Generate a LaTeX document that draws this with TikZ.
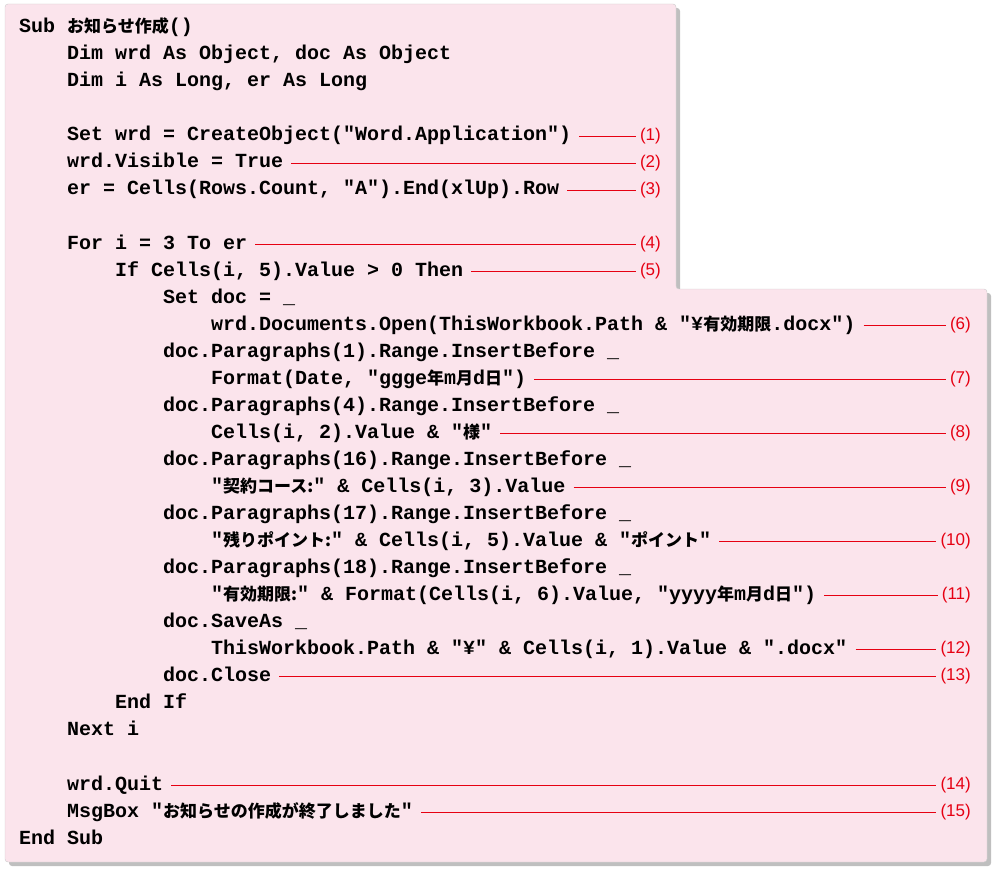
\documentclass[tikz,border=0pt]{standalone}
\usepackage{fontspec}
\setmonofont{Liberation Mono}
\setsansfont{Liberation Sans}
\newfontfamily\jpfont{Noto Sans CJK JP}
\newcommand{\jtxt}[1]{{\jpfont\fontsize{17}{20}\selectfont #1}}
\usetikzlibrary{positioning, calc}
\definecolor{sheet}{HTML}{FBE4EC}
\definecolor{leadred}{HTML}{E60012}

\begin{document}
\begin{tikzpicture}[x=1pt, y=1pt,
    code/.style={anchor=west, inner sep=0pt, font=\ttfamily\bfseries\fontsize{20}{22}\selectfont, text height=14pt, text depth=4pt},
    num/.style={anchor=east, inner sep=0pt, text=leadred, font=\sffamily\fontsize{17}{20}\selectfont},
    lead/.style={draw=leadred, semithick, shorten <=8pt, shorten >=4pt}
]
\useasboundingbox (0,0) rectangle (1000,-877);

% Sheet with its step on the right
\fill[black!25, rounded corners=3pt] (9,-8) -- (680,-8) -- (680,-293) -- (991,-293) -- (991,-866) -- (9,-866) -- cycle;
\filldraw[fill=sheet, draw=black!20, rounded corners=3pt] (5,-4) -- (676,-4) -- (676,-289) -- (987,-289) -- (987,-862) -- (5,-862) -- cycle;

% Code lines
\node[code] (c1) at (19,-28) {Sub \jtxt{お知らせ作成}()};
\node[code] (c2) at (67,-55) {Dim wrd As Object, doc As Object};
\node[code] (c3) at (67,-82) {Dim i As Long, er As Long};
\node[code] (c5) at (67,-136) {Set wrd = CreateObject("Word.Application")};
\node[code] (c6) at (67,-163) {wrd.Visible = True};
\node[code] (c7) at (67,-190) {er = Cells(Rows.Count, "A").End(xlUp).Row};
\node[code] (c9) at (67,-244) {For i = 3 To er};
\node[code] (c10) at (115,-271) {If Cells(i, 5).Value > 0 Then};
\node[code] (c11) at (163,-298) {Set doc = \_};
\node[code] (c12) at (211,-325) {wrd.Documents.Open(ThisWorkbook.Path \& "¥\jtxt{有効期限}.docx")};
\node[code] (c13) at (163,-352) {doc.Paragraphs(1).Range.InsertBefore \_};
\node[code] (c14) at (211,-379) {Format(Date, "ggge\jtxt{年}m\jtxt{月}d\jtxt{日}")};
\node[code] (c15) at (163,-406) {doc.Paragraphs(4).Range.InsertBefore \_};
\node[code] (c16) at (211,-433) {Cells(i, 2).Value \& "\jtxt{様}"};
\node[code] (c17) at (163,-460) {doc.Paragraphs(16).Range.InsertBefore \_};
\node[code] (c18) at (211,-487) {"\jtxt{契約コース:}" \& Cells(i, 3).Value};
\node[code] (c19) at (163,-514) {doc.Paragraphs(17).Range.InsertBefore \_};
\node[code] (c20) at (211,-541) {"\jtxt{残りポイント:}" \& Cells(i, 5).Value \& "\jtxt{ポイント}"};
\node[code] (c21) at (163,-568) {doc.Paragraphs(18).Range.InsertBefore \_};
\node[code] (c22) at (211,-595) {"\jtxt{有効期限:}" \& Format(Cells(i, 6).Value, "yyyy\jtxt{年}m\jtxt{月}d\jtxt{日}")};
\node[code] (c23) at (163,-622) {doc.SaveAs \_};
\node[code] (c24) at (211,-649) {ThisWorkbook.Path \& "¥" \& Cells(i, 1).Value \& ".docx"};
\node[code] (c25) at (163,-676) {doc.Close};
\node[code] (c26) at (115,-703) {End If};
\node[code] (c27) at (67,-730) {Next i};
\node[code] (c29) at (67,-785) {wrd.Quit};
\node[code] (c30) at (67,-812) {MsgBox "\jtxt{お知らせの作成が終了しました}"};
\node[code] (c31) at (19,-839) {End Sub};

% Numbers
\node[num] (l1) at (661,-136) {(1)};
\node[num] (l2) at (661,-163) {(2)};
\node[num] (l3) at (661,-190) {(3)};
\node[num] (l4) at (661,-244) {(4)};
\node[num] (l5) at (661,-271) {(5)};
\node[num] (l6) at (971,-325) {(6)};
\node[num] (l7) at (971,-379) {(7)};
\node[num] (l8) at (971,-433) {(8)};
\node[num] (l9) at (971,-487) {(9)};
\node[num] (l10) at (971,-541) {(10)};
\node[num] (l11) at (971,-595) {(11)};
\node[num] (l12) at (971,-649) {(12)};
\node[num] (l13) at (971,-676) {(13)};
\node[num] (l14) at (971,-785) {(14)};
\node[num] (l15) at (971,-812) {(15)};

% Leader lines
\foreach \c/\l in {c5/l1, c6/l2, c7/l3, c9/l4, c10/l5, c12/l6, c14/l7, c16/l8, c18/l9, c20/l10, c22/l11, c24/l12, c25/l13, c29/l14, c30/l15}
  \draw[lead] (\c.east) -- (\c.east -| \l.west);

\end{tikzpicture}
\end{document}
